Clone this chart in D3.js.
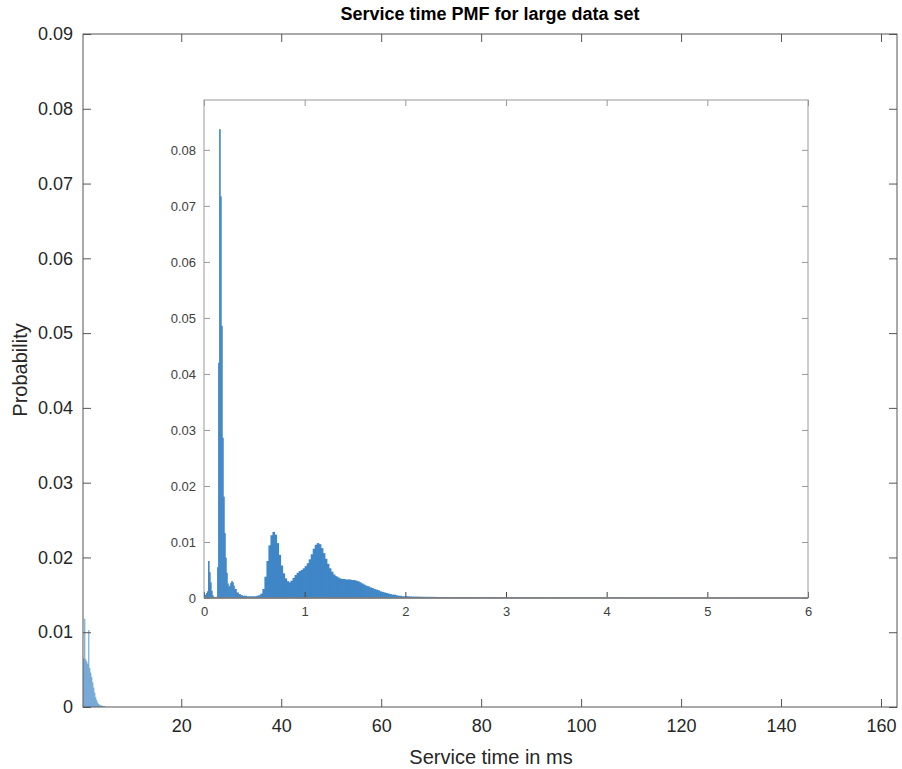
<!DOCTYPE html>
<html>
<head>
<meta charset="utf-8">
<script src="https://cdnjs.cloudflare.com/ajax/libs/d3/7.8.5/d3.min.js"></script>
<style>
  body { margin: 0; background: #fff; }
  svg { font-family: "Liberation Sans", Arial, sans-serif; }
</style>
</head>
<body>
<svg id="chart" width="902" height="769"></svg>
<script>
// main axes: coarse bins (0.2 ms) of the PMF, as seen at full range
var mainStart = 0.4, mainWidth = 0.2;
var mainProb = [0.0065, 0.0118, 0.0064, 0.0061, 0.0058, 0.0103, 0.0052, 0.0046, 0.0040, 0.0033,
                0.0026, 0.0019, 0.0013, 0.0009, 0.0006, 0.0004, 0.0003, 0.0002, 0.0002, 0.0001,
                0.0001, 0.0001];
var mainXTicks = [20, 40, 60, 80, 100, 120, 140, 160];
var mainYTicks = [0, 0.01, 0.02, 0.03, 0.04, 0.05, 0.06, 0.07, 0.08, 0.09];

// inset: fine bins 0 - 0.3 ms (0.01 wide)
var fineStart = 0, fineWidth = 0.01;
var fineProb = [0.0003, 0.0006, 0.0009, 0.0012, 0.0066, 0.0046, 0.0028, 0.0013, 0.0005, 0.0002,
                0.0001, 0.0001, 0.0002, 0.0055, 0.0420, 0.0837, 0.0717, 0.0486, 0.0286, 0.0181,
                0.0116, 0.0072, 0.0045, 0.0026, 0.0020, 0.0022, 0.0027, 0.0030, 0.0028, 0.0022];
// inset: 0.3 - 2.6 ms (0.02 wide)
var midStart = 0.3, midWidth = 0.02;
var midProb = [0.0016, 0.0010, 0.0007, 0.0005, 0.0004, 0.0004, 0.0003, 0.0003, 0.0003, 0.0003,
               0.0003, 0.0004, 0.0005, 0.0008, 0.0016, 0.0038, 0.0066, 0.0094, 0.0112, 0.0118,
               0.0113, 0.0098, 0.0077, 0.0058, 0.0044, 0.0035, 0.0030, 0.0028, 0.0031, 0.0036,
               0.0041, 0.0045, 0.0048, 0.0050, 0.0053, 0.0057, 0.0062, 0.0069, 0.0078, 0.0088,
               0.0095, 0.0098, 0.0096, 0.0089, 0.0080, 0.0070, 0.0061, 0.0053, 0.0047, 0.0042,
               0.0039, 0.0037, 0.0035, 0.0034, 0.0034, 0.0033, 0.0033, 0.0033, 0.0032, 0.0032,
               0.0031, 0.0030, 0.0028, 0.0026, 0.0024, 0.0022, 0.0021, 0.0019, 0.0018, 0.0016,
               0.0015, 0.0014, 0.0012, 0.0011, 0.0010, 0.0009, 0.0008, 0.0007, 0.0006, 0.0006,
               0.0005, 0.0004, 0.0004, 0.0003, 0.0003, 0.0003, 0.0003, 0.00026, 0.00025, 0.00024,
               0.00024, 0.00023, 0.00022, 0.00022, 0.00021, 0.00021, 0.0002, 0.0002, 0.0002, 0.00019,
               0.00019, 0.00018, 0.00018, 0.00018, 0.00017, 0.00017, 0.00017, 0.00016, 0.00016, 0.00016,
               0.00015, 0.00015, 0.00015, 0.00015, 0.00014];
// inset: tail 2.6 - 6 ms (0.1 wide)
var tailStart = 2.6, tailWidth = 0.1;
var tailProb = [0.00014, 0.00013, 0.00013, 0.00012, 0.00012, 0.00011, 0.00011, 0.0001, 0.0001, 0.0001,
                0.00009, 0.00009, 0.00009, 0.00008, 0.00008, 0.00008, 0.00007, 0.00007, 0.00007, 0.00007,
                0.00006, 0.00006, 0.00006, 0.00006, 0.00006, 0.00005, 0.00005, 0.00005, 0.00005, 0.00005,
                0.00005, 0.00005, 0.00005, 0.00005];
var insetXTicks = [0, 1, 2, 3, 4, 5, 6];
var insetYTicks = [0, 0.01, 0.02, 0.03, 0.04, 0.05, 0.06, 0.07, 0.08];

var barColor = "#3f86c7";
var textColor = "#262626";

function toBins(start, width, probs) {
    return probs.map(function (p, i) {
        return { x0: start + i * width, x1: start + (i + 1) * width, p: p };
    });
}

function styleAxis(g, color, lineColor, size) {
    g.select(".domain").remove();
    g.selectAll("line").attr("stroke", lineColor);
    g.selectAll("text").attr("fill", color).style("font-size", size + "px");
}

function probFormat(d) { return d === 0 ? "0" : d3.format(".2f")(d); }

var svg = d3.select("#chart");

// ---------- main axes ----------
var main = { left: 83, right: 897, top: 34, bottom: 707 };
var mx = d3.scaleLinear().domain([0.34, 163.2]).range([main.left, main.right]);
var my = d3.scaleLinear().domain([0, 0.09]).range([main.bottom, main.top]);

var gMain = svg.append("g");
gMain.append("g").selectAll("rect")
    .data(toBins(mainStart, mainWidth, mainProb))
    .enter().append("rect")
    .attr("x", function (d) { return mx(d.x0); })
    .attr("width", function (d) { return mx(d.x1) - mx(d.x0); })
    .attr("y", function (d) { return my(d.p); })
    .attr("height", function (d) { return my(0) - my(d.p); })
    .attr("fill", barColor)
    .attr("fill-opacity", 0.85);

gMain.append("g").attr("transform", "translate(0," + main.bottom + ")")
    .call(d3.axisBottom(mx).tickValues(mainXTicks).tickSizeInner(-8).tickSizeOuter(0).tickPadding(12))
    .call(styleAxis, textColor, "#555", 18);
gMain.append("g").attr("transform", "translate(0," + main.top + ")")
    .call(d3.axisTop(mx).tickValues(mainXTicks).tickSizeInner(-8).tickSizeOuter(0).tickFormat(""))
    .call(styleAxis, textColor, "#555", 18);
gMain.append("g").attr("transform", "translate(" + main.left + ",0)")
    .call(d3.axisLeft(my).tickValues(mainYTicks).tickSizeInner(-8).tickSizeOuter(0).tickPadding(10)
        .tickFormat(probFormat))
    .call(styleAxis, textColor, "#555", 18);
gMain.append("g").attr("transform", "translate(" + main.right + ",0)")
    .call(d3.axisRight(my).tickValues(mainYTicks).tickSizeInner(-8).tickSizeOuter(0).tickFormat(""))
    .call(styleAxis, textColor, "#555", 18);
gMain.append("rect")
    .attr("x", main.left).attr("y", main.top)
    .attr("width", main.right - main.left).attr("height", main.bottom - main.top)
    .attr("fill", "none").attr("stroke", "#555").attr("stroke-width", 1);

svg.append("text")
    .attr("x", 490).attr("y", 20)
    .attr("text-anchor", "middle")
    .attr("fill", "#000")
    .style("font-size", "18px").style("font-weight", "bold")
    .text("Service time PMF for large data set");
svg.append("text")
    .attr("x", 491).attr("y", 764)
    .attr("text-anchor", "middle")
    .attr("fill", textColor)
    .style("font-size", "20px")
    .text("Service time in ms");
svg.append("text")
    .attr("transform", "translate(27,370) rotate(-90)")
    .attr("text-anchor", "middle")
    .attr("fill", textColor)
    .style("font-size", "20px")
    .text("Probability");

// ---------- inset axes ----------
var ins = { left: 204, right: 808, top: 100, bottom: 598 };
var ix = d3.scaleLinear().domain([0, 6]).range([ins.left, ins.right]);
var iy = d3.scaleLinear().domain([0, 0.0889]).range([ins.bottom, ins.top]);

var gIns = svg.append("g");
gIns.append("rect")
    .attr("x", ins.left).attr("y", ins.top)
    .attr("width", ins.right - ins.left).attr("height", ins.bottom - ins.top)
    .attr("fill", "#fff");

var insetBins = toBins(fineStart, fineWidth, fineProb)
    .concat(toBins(midStart, midWidth, midProb))
    .concat(toBins(tailStart, tailWidth, tailProb));
// bars overlap by a fraction of a pixel so sub-pixel bins do not leave white gaps
gIns.append("g").selectAll("rect")
    .data(insetBins)
    .enter().append("rect")
    .attr("x", function (d) { return ix(d.x0); })
    .attr("width", function (d) { return ix(d.x1) - ix(d.x0) + 0.6; })
    .attr("y", function (d) { return iy(d.p); })
    .attr("height", function (d) { return iy(0) - iy(d.p); })
    .attr("fill", barColor);

gIns.append("g").attr("transform", "translate(0," + ins.bottom + ")")
    .call(d3.axisBottom(ix).tickValues(insetXTicks).tickSizeInner(-6).tickSizeOuter(0).tickPadding(9)
        .tickFormat(d3.format("d")))
    .call(styleAxis, "#404040", "#444", 13);
gIns.append("g").attr("transform", "translate(0," + ins.top + ")")
    .call(d3.axisTop(ix).tickValues(insetXTicks).tickSizeInner(-6).tickSizeOuter(0).tickFormat(""))
    .call(styleAxis, "#404040", "#999", 13);
gIns.append("g").attr("transform", "translate(" + ins.left + ",0)")
    .call(d3.axisLeft(iy).tickValues(insetYTicks).tickSizeInner(-6).tickSizeOuter(0).tickPadding(8)
        .tickFormat(probFormat))
    .call(styleAxis, "#404040", "#999", 13);
gIns.append("g").attr("transform", "translate(" + ins.right + ",0)")
    .call(d3.axisRight(iy).tickValues(insetYTicks).tickSizeInner(-6).tickSizeOuter(0).tickFormat(""))
    .call(styleAxis, "#404040", "#999", 13);
gIns.append("rect")
    .attr("x", ins.left).attr("y", ins.top)
    .attr("width", ins.right - ins.left).attr("height", ins.bottom - ins.top)
    .attr("fill", "none").attr("stroke", "#9a9a9a").attr("stroke-width", 1);
gIns.append("line")
    .attr("x1", ins.left).attr("x2", ins.right)
    .attr("y1", ins.bottom).attr("y2", ins.bottom)
    .attr("stroke", "#777").attr("stroke-width", 1.5);
</script>
</body>
</html>
